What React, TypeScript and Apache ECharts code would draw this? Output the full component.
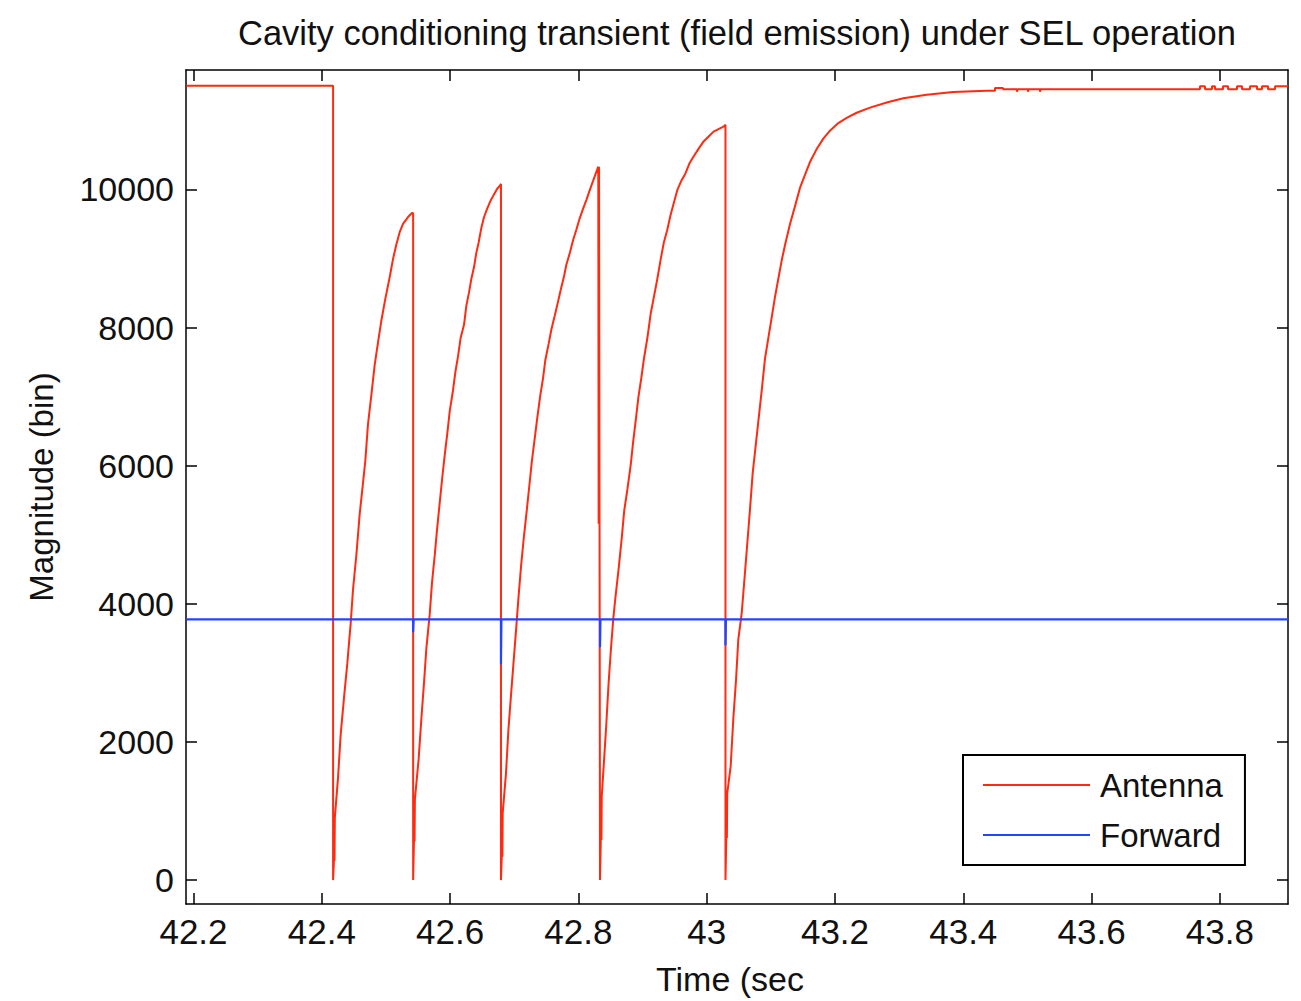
import React, { useEffect, useRef } from "react";
import * as echarts from "echarts";

// ---- Axis ranges & ticks ----
const xMin = 42.1883;
const xMax = 43.9062;
const yMin = -346;
const yMax = 11729;
const xTicks = [42.2, 42.4, 42.6, 42.8, 43.0, 43.2, 43.4, 43.6, 43.8];
const xTickLabels = ["42.2", "42.4", "42.6", "42.8", "43", "43.2", "43.4", "43.6", "43.8"];
const yTicks = [0, 2000, 4000, 6000, 8000, 10000];
const yTickLabels = ["0", "2000", "4000", "6000", "8000", "10000"];

// ---- Antenna (red) magnitude: [time, bin] ----
const antennaHold: number[][] = [
  [42.189, 11500], [42.4176, 11500], [42.4176, 0],
];
const antennaCycle1: number[][] = [
  [42.4188, 260], [42.4192, 900], [42.4198, 280], [42.4203, 900],
  [42.4253, 1484], [42.4295, 2118], [42.4346, 2637], [42.4398, 3141], [42.445, 3718],
  [42.4486, 4200], [42.4538, 4700], [42.4591, 5303], [42.4642, 5749], [42.4678, 6066],
  [42.472, 6600], [42.4772, 7017], [42.4825, 7464], [42.4876, 7781], [42.4928, 8098],
  [42.499, 8415], [42.5059, 8732], [42.511, 8991], [42.5161, 9200], [42.5214, 9380],
  [42.5266, 9500], [42.5344, 9600], [42.5401, 9654], [42.5424, 9660], [42.5424, 0],
];
const antennaCycle2: number[][] = [
  [42.5436, 540], [42.544, 1167], [42.5446, 560], [42.5451, 1167],
  [42.551, 1758], [42.5551, 2320], [42.5593, 2853], [42.5629, 3343], [42.5682, 3847],
  [42.5718, 4308], [42.576, 4697], [42.5796, 5072], [42.5838, 5461], [42.5874, 5793],
  [42.5916, 6153], [42.5957, 6470], [42.5994, 6787], [42.6045, 7089], [42.6081, 7349],
  [42.6123, 7579], [42.6165, 7853], [42.6217, 8040], [42.6253, 8314], [42.6295, 8509],
  [42.6331, 8703], [42.6373, 8876], [42.6408, 9078], [42.6446, 9236], [42.6486, 9438],
  [42.6528, 9597], [42.658, 9726], [42.6633, 9841], [42.6684, 9928], [42.6736, 10014],
  [42.6773, 10050], [42.6793, 10080], [42.6793, 0],
];
const antennaCycle3: number[][] = [
  [42.6805, 321], [42.6809, 970], [42.6815, 340], [42.682, 970],
  [42.6871, 1542], [42.6909, 2176], [42.6951, 2695], [42.6993, 3199], [42.7029, 3631],
  [42.7065, 4078], [42.7107, 4553], [42.7149, 4957], [42.7196, 5360], [42.7238, 5735],
  [42.7275, 6066], [42.7317, 6376], [42.7358, 6686], [42.7406, 7017], [42.7447, 7255],
  [42.7484, 7526], [42.7537, 7767], [42.7578, 7968], [42.7631, 8170], [42.7682, 8372],
  [42.7724, 8545], [42.7777, 8746], [42.7813, 8912], [42.7866, 9078], [42.7917, 9265],
  [42.797, 9424], [42.8023, 9589], [42.8075, 9726], [42.8128, 9856], [42.8181, 10000],
  [42.8232, 10130], [42.8284, 10265], [42.831, 10330], [42.8316, 5160], [42.8322, 10330],
  [42.833, 5160], [42.8337, 0],
];
const antennaCycle4: number[][] = [
  [42.8349, 562], [42.8353, 1210], [42.8359, 580], [42.8364, 1210],
  [42.8432, 2205], [42.8471, 2853], [42.8507, 3343], [42.8543, 3775], [42.8574, 4063],
  [42.8625, 4488], [42.8672, 4914], [42.8714, 5346], [42.8765, 5663], [42.8817, 6023],
  [42.8853, 6340], [42.8895, 6664], [42.8935, 6988], [42.8982, 7277], [42.9023, 7556],
  [42.9074, 7841], [42.9127, 8199], [42.9178, 8448], [42.923, 8703], [42.9282, 8983],
  [42.9333, 9236], [42.9384, 9409], [42.9436, 9625], [42.9487, 9803], [42.954, 9986],
  [42.9607, 10130], [42.9669, 10231], [42.973, 10375], [42.9798, 10481], [42.9875, 10591],
  [42.9952, 10695], [43.003, 10767], [43.0107, 10837], [43.0184, 10873], [43.0262, 10908],
  [43.0293, 10937], [43.0293, 0],
];
const antennaRecovery: number[][] = [
  [43.0305, 595], [43.0309, 1253], [43.0315, 610], [43.032, 1253],
  [43.0374, 1650], [43.0415, 2334], [43.0457, 2896], [43.0493, 3487], [43.0546, 3867],
  [43.0582, 4280], [43.0624, 4769], [43.0675, 5367], [43.0717, 5893], [43.0753, 6196],
  [43.0805, 6643], [43.0858, 7089], [43.0909, 7550], [43.096, 7844], [43.1013, 8144],
  [43.1065, 8444], [43.1116, 8703], [43.1169, 8970], [43.1221, 9196], [43.1298, 9496],
  [43.1377, 9758], [43.1454, 10022], [43.1532, 10209], [43.161, 10396], [43.1714, 10584],
  [43.1818, 10735], [43.1922, 10850], [43.2052, 10960], [43.2182, 11035], [43.2338, 11110],
  [43.2546, 11184], [43.2806, 11259], [43.3065, 11320], [43.343, 11370], [43.3844, 11410],
  [43.4365, 11430], [43.4494, 11430],
];
const antennaSettled: number[][] = [
  [43.4494, 11470], [43.4619, 11470], [43.4619, 11450], [43.4837, 11450], [43.4837, 11415],
  [43.485, 11450], [43.5009, 11450], [43.5009, 11415], [43.5022, 11450], [43.5196, 11450],
  [43.5196, 11415], [43.5209, 11450], [43.769, 11450], [43.769, 11495], [43.7768, 11495],
  [43.7768, 11450], [43.7877, 11450], [43.7877, 11495], [43.7924, 11495], [43.7924, 11450],
  [43.8049, 11450], [43.8049, 11495], [43.8127, 11495], [43.8127, 11450], [43.8267, 11450],
  [43.8267, 11495], [43.8345, 11495], [43.8345, 11450], [43.847, 11450], [43.847, 11495],
  [43.8579, 11495], [43.8579, 11450], [43.8657, 11450], [43.8657, 11495], [43.875, 11495],
  [43.875, 11450], [43.886, 11450], [43.886, 11495], [43.9062, 11495],
];

// ---- Forward (blue) magnitude: [time, bin] ----
const forwardLevel = 3775;
const forwardDipTimes = [42.5424, 42.6793, 42.8337, 43.0293];
const forwardDipValues = [3588, 3127, 3372, 3400];

const antennaData = [
  ...antennaHold, ...antennaCycle1, ...antennaCycle2, ...antennaCycle3,
  ...antennaCycle4, ...antennaRecovery, ...antennaSettled,
];
const forwardData: number[][] = [[42.189, forwardLevel]];
forwardDipTimes.forEach((t, i) => {
  forwardData.push([t, forwardLevel], [t, forwardDipValues[i]], [t + 0.0007, forwardLevel]);
});
forwardData.push([43.9062, forwardLevel]);

const FONT = "Liberation Sans, Arial, sans-serif";

export default function App() {
  const ref = useRef<HTMLDivElement>(null);
  useEffect(() => {
    if (!ref.current) return;
    const chart = echarts.init(ref.current, undefined, { renderer: "svg" });
    const axisLine = { show: true, onZero: false, lineStyle: { color: "#000", width: 1.5 } };
    const tick = (vals: number[]) => ({
      show: true, inside: true, length: 11, customValues: vals,
      lineStyle: { color: "#000", width: 1.5 },
    });
    chart.setOption({
      animation: false,
      backgroundColor: "#fff",
      title: {
        text: "Cavity conditioning transient (field emission) under SEL operation",
        left: 233, top: 10,
        textStyle: { fontFamily: FONT, fontSize: 34.5, fontWeight: "normal", color: "#111" },
      },
      grid: { left: 186, top: 70, right: 13, bottom: 93, containLabel: false },
      legend: {
        orient: "vertical", left: 963, top: 755, icon: "rect",
        backgroundColor: "#fff", borderColor: "#000", borderWidth: 2, borderRadius: 0,
        padding: [12, 22, 12, 20], itemWidth: 107, itemHeight: 2, itemGap: 14,
        textStyle: { fontFamily: FONT, fontSize: 33, color: "#111", lineHeight: 36, padding: [0, 0, 0, 5] },
        data: ["Antenna", "Forward"],
      },
      xAxis: [
        {
          type: "value", min: xMin, max: xMax, position: "bottom",
          axisLine, axisTick: tick(xTicks), splitLine: { show: false },
          axisLabel: {
            customValues: xTicks, margin: 10,
            fontFamily: FONT, fontSize: 35, color: "#111",
            formatter: (v: number) => {
              const i = xTicks.findIndex((t) => Math.abs(t - v) < 1e-6);
              return i >= 0 ? xTickLabels[i] : "";
            },
          },
          name: "Time (sec", nameLocation: "middle", nameGap: 58,
          nameTextStyle: { fontFamily: FONT, fontSize: 34, color: "#111", padding: [0, 14, 0, 0] },
        },
        {
          type: "value", min: xMin, max: xMax, position: "top",
          axisLine, axisTick: tick(xTicks), axisLabel: { show: false }, splitLine: { show: false },
        },
      ],
      yAxis: [
        {
          type: "value", min: yMin, max: yMax, position: "left",
          axisLine, axisTick: tick(yTicks), splitLine: { show: false },
          axisLabel: {
            customValues: yTicks, margin: 12,
            fontFamily: FONT, fontSize: 34, color: "#111",
            formatter: (v: number) => {
              const i = yTicks.findIndex((t) => Math.abs(t - v) < 1e-6);
              return i >= 0 ? yTickLabels[i] : "";
            },
          },
          name: "Magnitude (bin)", nameLocation: "middle", nameGap: 128,
          nameTextStyle: { fontFamily: FONT, fontSize: 33, color: "#111" },
        },
        {
          type: "value", min: yMin, max: yMax, position: "right",
          axisLine, axisTick: tick(yTicks), axisLabel: { show: false }, splitLine: { show: false },
        },
      ],
      series: [
        {
          name: "Antenna", type: "line", data: antennaData, symbol: "none", showSymbol: false,
          lineStyle: { color: "#ff2a10", width: 2 }, itemStyle: { color: "#ff2a10" },
          xAxisIndex: 0, yAxisIndex: 0, z: 2,
        },
        {
          name: "Forward", type: "line", data: forwardData, symbol: "none", showSymbol: false,
          lineStyle: { color: "#2246ff", width: 2.2 }, itemStyle: { color: "#2246ff" },
          xAxisIndex: 0, yAxisIndex: 0, z: 3,
        },
      ],
    });
    return () => chart.dispose();
  }, []);
  return (
    <div
      ref={ref}
      style={{ position: "absolute", left: 0, top: 0, width: 1301, height: 1001, background: "#fff" }}
    />
  );
}
